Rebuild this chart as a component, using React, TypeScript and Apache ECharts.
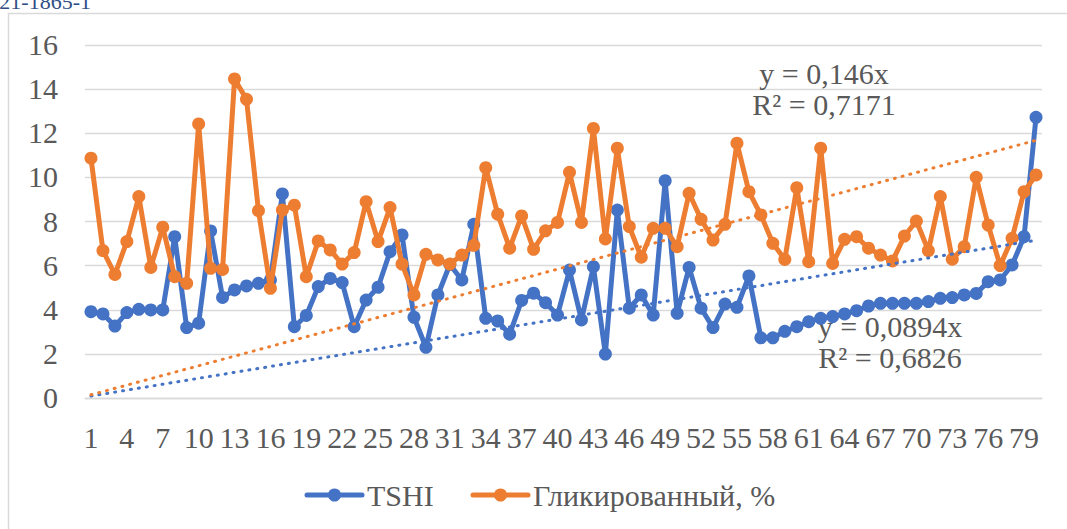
import React, { useEffect, useRef } from 'react';
import * as echarts from 'echarts';

const categories: string[] = Array.from({ length: 80 }, (_, i) => String(i + 1));
const xLabelStep = 3;

const tshiValues = [
  3.91, 3.81, 3.26, 3.87, 4.02, 3.99, 3.99, 7.31, 3.19, 3.39,
  7.57, 4.56, 4.9, 5.08, 5.2, 5.35, 9.25, 3.23, 3.74, 5.05,
  5.42, 5.23, 3.23, 4.44, 5.02, 6.63, 7.39, 3.66, 2.3, 4.67,
  6.05, 5.35, 7.87, 3.61, 3.49, 2.89, 4.42, 4.75, 4.32, 3.76,
  5.8, 3.54, 5.95, 1.99, 8.52, 4.07, 4.67, 3.76, 9.85, 3.84,
  5.92, 4.07, 3.19, 4.26, 4.11, 5.53, 2.73, 2.73, 3.02, 3.23,
  3.46, 3.61, 3.69, 3.81, 3.96, 4.17, 4.29, 4.29, 4.29, 4.29,
  4.37, 4.52, 4.55, 4.67, 4.74, 5.27, 5.35, 6.03, 7.31, 12.72,
];

const glycValues = [
  10.87, 6.68, 5.6, 7.09, 9.13, 5.92, 7.74, 5.5, 5.2, 12.42,
  5.88, 5.83, 14.46, 13.54, 8.49, 4.97, 8.52, 8.74, 5.5, 7.12,
  6.71, 6.07, 6.59, 8.9, 7.09, 8.63, 6.07, 4.67, 6.51, 6.26,
  6.07, 6.48, 6.92, 10.44, 8.33, 6.79, 8.25, 6.74, 7.58, 7.96,
  10.23, 7.96, 12.22, 7.21, 11.32, 7.77, 6.38, 7.69, 7.69, 6.86,
  9.28, 8.1, 7.16, 7.87, 11.55, 9.35, 8.3, 7.01, 6.28, 9.53,
  6.18, 11.32, 6.1, 7.19, 7.31, 6.79, 6.48, 6.21, 7.34, 8.02,
  6.68, 9.13, 6.29, 6.86, 10.0, 7.84, 6.0, 7.24, 9.35, 10.11,
];

const seriesNames = ['TSHI', 'Гликированный, %'];
const tshiSlope = 0.0894;
const glycSlope = 0.146;
const tshiTrendLabel = ['y = 0,0894x', 'R² = 0,6826'];
const glycTrendLabel = ['y = 0,146x', 'R² = 0,7171'];
const yTickValues = [0, 2, 4, 6, 8, 10, 12, 14, 16];
const sourceNote = '2021-1865-1';

const BLUE = '#4472C4';
const ORANGE = '#ED7D31';
const TEXT = '#595959';
const GRID = '#D9D9D9';
const FONT = 'Liberation Serif';
const LH = 31;

function serifText(text: string, x: number, yCenter: number, align: string) {
  return {
    type: 'text',
    silent: true,
    x,
    y: yCenter - LH / 2,
    style: { text, fill: TEXT, font: `30px ${FONT}`, align, verticalAlign: 'top', lineHeight: LH },
  };
}

function trendLine(slope: number, color: string) {
  const first = categories[0];
  const last = categories[categories.length - 1];
  return {
    silent: true,
    symbol: ['none', 'none'],
    label: { show: false },
    emphasis: { disabled: true },
    lineStyle: { color, width: 3, type: [1, 7], cap: 'round', opacity: 1 },
    data: [[
      { coord: [first, slope * Number(first)] },
      { coord: [last, slope * Number(last)] },
    ]],
  };
}

function legendItem(x: number, y: number, color: string, name: string) {
  return {
    type: 'group',
    silent: true,
    children: [
      { type: 'line', shape: { x1: x, y1: y, x2: x + 55, y2: y }, style: { stroke: color, lineWidth: 5, lineCap: 'round' } },
      { type: 'circle', shape: { cx: x + 27.5, cy: y, r: 6.5 }, style: { fill: color } },
      serifText(name + ' ', x + 60, y, 'left'),
    ],
  };
}

export default function App() {
  const ref = useRef<HTMLDivElement>(null);
  useEffect(() => {
    const chart = echarts.init(ref.current!, null, { renderer: 'svg' });
    chart.setOption({
      animation: false,
      backgroundColor: '#fff',
      grid: { left: 85, right: 25, top: 45, bottom: 131, containLabel: false },
      xAxis: {
        type: 'category',
        data: categories,
        boundaryGap: true,
        axisLine: { show: true, lineStyle: { color: GRID, width: 1.3 } },
        axisTick: { show: false },
        axisLabel: { show: false },
        splitLine: { show: false },
      },
      yAxis: {
        type: 'value',
        min: yTickValues[0],
        max: yTickValues[yTickValues.length - 1],
        interval: yTickValues[1] - yTickValues[0],
        axisLine: { show: false },
        axisTick: { show: false },
        axisLabel: { show: false },
        splitLine: { show: true, lineStyle: { color: GRID, width: 1.3 } },
      },
      series: [
        {
          name: seriesNames[0], type: 'line', data: tshiValues, symbol: 'circle', symbolSize: 13,
          showAllSymbol: true, itemStyle: { color: BLUE }, lineStyle: { color: BLUE, width: 5 },
          markLine: trendLine(tshiSlope, BLUE), z: 2,
        },
        {
          name: seriesNames[1], type: 'line', data: glycValues, symbol: 'circle', symbolSize: 13,
          showAllSymbol: true, itemStyle: { color: ORANGE }, lineStyle: { color: ORANGE, width: 5 },
          markLine: trendLine(glycSlope, ORANGE), z: 3,
        },
      ],
    });

    const graphics: any[] = [
      { type: 'rect', silent: true, shape: { x: 8.5, y: 13.5, width: 1100, height: 600 },
        style: { fill: 'none', stroke: GRID, lineWidth: 1.5 }, z: -1 },
      { type: 'text', silent: true, x: 91, y: 12,
        style: { text: sourceNote, fill: '#2F4F86', font: `22px ${FONT}`, align: 'right', verticalAlign: 'bottom' } },
      { type: 'text', silent: true, x: 824, y: 58,
        style: { text: glycTrendLabel.join('\n'), fill: TEXT, font: `30px ${FONT}`, align: 'center', verticalAlign: 'top', lineHeight: LH } },
      { type: 'text', silent: true, x: 890, y: 311,
        style: { text: tshiTrendLabel.join('\n'), fill: TEXT, font: `30px ${FONT}`, align: 'center', verticalAlign: 'top', lineHeight: LH } },
    ];

    yTickValues.forEach((v) => {
      const py = chart.convertToPixel({ yAxisIndex: 0 }, v) as number;
      graphics.push(serifText(' ' + String(v), 58, py - 0.5, 'right'));
    });
    const axisY = chart.convertToPixel({ yAxisIndex: 0 }, yTickValues[0]) as number;
    for (let i = 0; i < categories.length; i += xLabelStep) {
      const px = chart.convertToPixel({ xAxisIndex: 0 }, categories[i]) as number;
      graphics.push(serifText(' ' + categories[i] + ' ', px, axisY + 39, 'center'));
    }
    graphics.push(legendItem(307, 495, BLUE, seriesNames[0]));
    graphics.push(legendItem(473, 495, ORANGE, seriesNames[1]));
    chart.setOption({ graphic: graphics });

    return () => chart.dispose();
  }, []);
  return (
    <div ref={ref} style={{ position: 'fixed', left: 0, top: 0, width: 1067, height: 529, background: '#fff' }} />
  );
}
